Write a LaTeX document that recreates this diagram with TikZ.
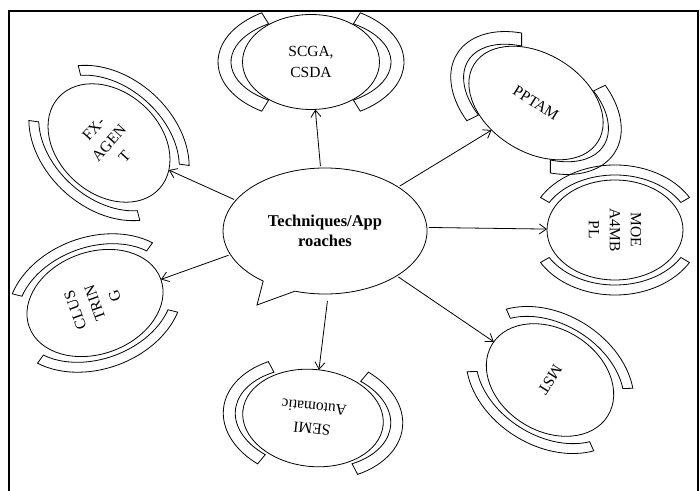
\documentclass[tikz,border=0pt]{standalone}
\usepackage{fontspec}
\setmainfont{Liberation Serif}
\usetikzlibrary{arrows.meta,shapes.geometric}

\tikzset{
  sat/.style={ellipse, draw, line width=0.8pt, inner sep=0pt, outer sep=0pt,
              align=center, font=\fontsize{15.5}{21}\selectfont},
  hub/.style={ellipse, inner sep=0pt, outer sep=0pt, align=center,
              font=\bfseries\fontsize{16.5}{20}\selectfont},
  conn/.style={line width=0.8pt, -{Straight Barb[length=7pt,width=10pt]}, shorten <=2pt},
  brk/.style={draw, line width=0.8pt},
  frame/.style={line width=2pt},
}

% pair of curved bands at the local left/right of a satellite
% #1 outer radius along axis, #2 outer radius across, #3 thickness, #4 half span
\newcommand\bandpair[4]{%
  \foreach \m in {0,180} {
    \draw[brk] ({\m-#4}:{#1} and {#2})
      arc[start angle={\m-#4}, end angle={\m+#4}, x radius={#1}, y radius={#2}]
      -- ({\m+#4}:{#1-#3} and {#2-#3})
      arc[start angle={\m+#4}, end angle={\m-#4}, x radius={#1-#3}, y radius={#2-#3}]
      -- cycle;
  }%
}

\begin{document}
\begin{tikzpicture}[x=1pt,y=1pt]
\useasboundingbox (0,0) rectangle (700,490);

% frame
\draw[frame] (9,-5) -- (9,479) -- (698,479) -- (698,-5);

% central speech bubble
\draw[line width=0.8pt] (325,259) ++(252.8:102 and 63)
  arc[start angle=252.8, end angle=592.7, x radius=102, y radius=63]
  -- (257,185) -- cycle;
\node[hub, minimum width=204pt, minimum height=126pt] (c) at (325,259) {Techniques/App\\roaches};

% SCGA, CSDA
\begin{scope}[shift={(311,428)}, rotate=0]\bandpair{93}{58}{13}{58}\end{scope}
\node[sat, minimum width=137pt, minimum height=95pt] (scga) at (311,428) {SCGA,\\CSDA};

% PPTAM
\begin{scope}[shift={(536,387)}, rotate=-32]\bandpair{93}{61}{13}{58}\end{scope}
\node[sat, rotate=-32, minimum width=146pt, minimum height=98pt] (pptam) at (536,387) {PPTAM};

% MOE A4MB PL
\begin{scope}[shift={(615,260)}, rotate=-90]\bandpair{65}{86}{10}{60}\end{scope}
\node[sat, rotate=-90, minimum width=100pt, minimum height=136pt] (moe) at (615,260) {MOE\\A4MB\\PL};

% MST
\begin{scope}[shift={(550,110)}, rotate=238]\bandpair{66}{90}{10}{56}\end{scope}
\node[sat, rotate=238, minimum width=102pt, minimum height=136pt] (mst) at (550,110) {MST};

% SEMI Automatic
\begin{scope}[shift={(313,72)}, rotate=174]\bandpair{90}{62}{12}{56}\end{scope}
\node[sat, rotate=174, minimum width=141pt, minimum height=97pt] (semi) at (313,72) {SEMI\\Automatic};

% CLUS TRIN G
\begin{scope}[shift={(95,187)}, rotate=110]\bandpair{66}{90}{10}{56}\end{scope}
\node[sat, rotate=110, minimum width=102pt, minimum height=140pt] (clus) at (95,187) {CLUS\\TRIN\\G};

% FX-AGEN T
\begin{scope}[shift={(109,347)}, rotate=48]\bandpair{66}{90}{10}{56}\end{scope}
\node[sat, rotate=48, minimum width=102pt, minimum height=136pt] (fx) at (109,347) {FX-\\AGEN\\T};

% connectors
\draw[conn] (c.94) -- (scga);
\draw[conn] (c.31.5) -- (pptam);
\draw[conn] (c.2) -- (moe);
\draw[conn] (c.-32.5) -- (mst);
\draw[conn, shorten <=7pt] (c.-87.6) -- (semi);
\draw[conn] (c.194) -- (clus);
\draw[conn] (c.161) -- (fx);
\end{tikzpicture}
\end{document}
